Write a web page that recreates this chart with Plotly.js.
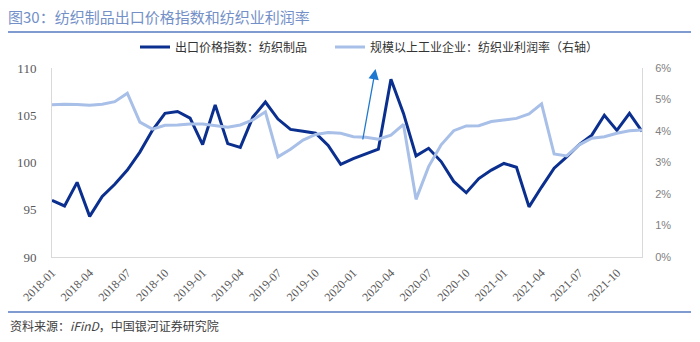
<!DOCTYPE html>
<html>
<head>
<meta charset="utf-8">
<script src="https://cdn.plot.ly/plotly-3.0.1.min.js"></script>
<style>html,body{margin:0;padding:0;background:#fff;}#chart{width:700px;height:342px;}</style>
</head>
<body>
<div id="chart"></div>
<script>
const months = [
 "2018-01","2018-02","2018-03","2018-04","2018-05","2018-06","2018-07","2018-08","2018-09","2018-10","2018-11","2018-12",
 "2019-01","2019-02","2019-03","2019-04","2019-05","2019-06","2019-07","2019-08","2019-09","2019-10","2019-11","2019-12",
 "2020-01","2020-02","2020-03","2020-04","2020-05","2020-06","2020-07","2020-08","2020-09","2020-10","2020-11","2020-12",
 "2021-01","2021-02","2021-03","2021-04","2021-05","2021-06","2021-07","2021-08","2021-09","2021-10","2021-11","2021-12"
];
const tickLabels = ["2018-01","2018-04","2018-07","2018-10","2019-01","2019-04","2019-07","2019-10",
 "2020-01","2020-04","2020-07","2020-10","2021-01","2021-04","2021-07","2021-10"];
const exportPriceIndex = [
 96.0, 95.4, 97.9, 94.3, 96.4, 97.7, 99.2, 101.1, 103.4, 105.2, 105.4, 104.7,
 101.9, 106.1, 102.0, 101.6, 104.8, 106.4, 104.6, 103.5, 103.3, 103.1, 101.8, 99.8,
 100.4, 100.9, 101.4, 108.8, 105.2, 100.7, 101.5, 100.1, 98.0, 96.8, 98.3, 99.2,
 99.9, 99.5, 95.3, 97.4, 99.4, 100.6, 101.9, 102.9, 105.0, 103.4, 105.2, 103.3
];
const textileProfitRate = [
 4.83, 4.85, 4.84, 4.82, 4.85, 4.93, 5.20, 4.28, 4.06, 4.18, 4.19, 4.22,
 4.22, 4.16, 4.12, 4.19, 4.35, 4.61, 3.18, 3.42, 3.71, 3.89, 3.95, 3.93,
 3.82, 3.80, 3.74, 3.87, 4.21, 1.83, 2.87, 3.56, 4.01, 4.16, 4.17, 4.30,
 4.35, 4.40, 4.54, 4.86, 3.27, 3.21, 3.56, 3.77, 3.82, 3.93, 4.01, 4.03
];
const seriesNames = ["出口价格指数：纺织制品", "规模以上工业企业：纺织业利润率（右轴）"];

const L = 52, R = 642, T = 68, B = 257, W = 700, H = 342;
const px = v => (v - L) / (R - L);
const py = v => (B - v) / (B - T);

const traces = [
 {x: months, y: exportPriceIndex, name: seriesNames[0], type: 'scatter', mode: 'lines',
  line: {color: '#0b2f8e', width: 3}, yaxis: 'y', legend: 'legend'},
 {x: months, y: textileProfitRate, name: seriesNames[1], type: 'scatter', mode: 'lines',
  line: {color: '#a8bfe8', width: 3}, yaxis: 'y2', legend: 'legend2'}
];

const legendStyle = {orientation: 'h', xanchor: 'left', y: py(47), yanchor: 'middle',
  font: {family: 'Noto Sans CJK SC, sans-serif', size: 12, color: '#333333'},
  bgcolor: 'rgba(0,0,0,0)', itemwidth: 30};

const layout = {
 width: W, height: H,
 margin: {l: L, r: W - R, t: T, b: H - B, pad: 0},
 paper_bgcolor: '#ffffff', plot_bgcolor: '#ffffff',
 showlegend: true,
 title: {text: '图30：纺织制品出口价格指数和纺织业利润率', xref: 'container', yref: 'container',
  x: 8 / W, xanchor: 'left', y: 1 - 18 / H, yanchor: 'middle',
  font: {family: 'Noto Sans CJK SC, sans-serif', size: 15, color: '#7390c8'}},
 legend: Object.assign({}, legendStyle, {x: px(135)}),
 legend2: Object.assign({}, legendStyle, {x: px(330)}),
 xaxis: {type: 'category', tickmode: 'array', tickvals: tickLabels, ticktext: tickLabels,
  tickangle: -45, showgrid: false, zeroline: false, showline: true, linecolor: '#d9d9d9', linewidth: 1,
  ticks: '', ticklabelstandoff: 3, tickfont: {family: 'Liberation Serif, serif', size: 12, color: '#595959'}},
 yaxis: {range: [90, 110], dtick: 5, showgrid: false, zeroline: false, showline: true,
  linecolor: '#d9d9d9', linewidth: 1, ticks: '', ticklabelstandoff: 12,
  tickfont: {family: 'Liberation Serif, serif', size: 13, color: '#595959'}},
 yaxis2: {range: [0, 6], dtick: 1, overlaying: 'y', side: 'right', showgrid: false, zeroline: false,
  showline: true, linecolor: '#d9d9d9', linewidth: 1, ticks: '', ticksuffix: '%', ticklabelstandoff: 10,
  tickfont: {family: 'Liberation Sans, sans-serif', size: 11, color: '#7f7f7f'}},
 shapes: [
  {type: 'line', xref: 'paper', yref: 'paper', x0: px(8), x1: px(691), y0: py(32), y1: py(32),
   line: {color: '#7f9bd0', width: 2}},
  {type: 'line', xref: 'paper', yref: 'paper', x0: px(8), x1: px(691), y0: py(312), y1: py(312),
   line: {color: '#7f9bd0', width: 2}}
 ],
 annotations: [
  {text: '资料来源：<i>iFinD</i>，中国银河证券研究院', xref: 'paper', yref: 'paper', x: px(8), y: py(325),
   xanchor: 'left', yanchor: 'middle', showarrow: false,
   font: {family: 'Noto Sans CJK SC, sans-serif', size: 12, color: '#404040'}},
  {text: '', xref: 'paper', yref: 'paper', x: px(375.5), y: py(69), ax: -13, ay: 72,
   showarrow: true, arrowhead: 2, arrowsize: 1.6, arrowwidth: 1.3, arrowcolor: '#1e78cf'}
 ]
};

Plotly.newPlot('chart', traces, layout, {displayModeBar: false, staticPlot: true});
</script>
</body>
</html>
